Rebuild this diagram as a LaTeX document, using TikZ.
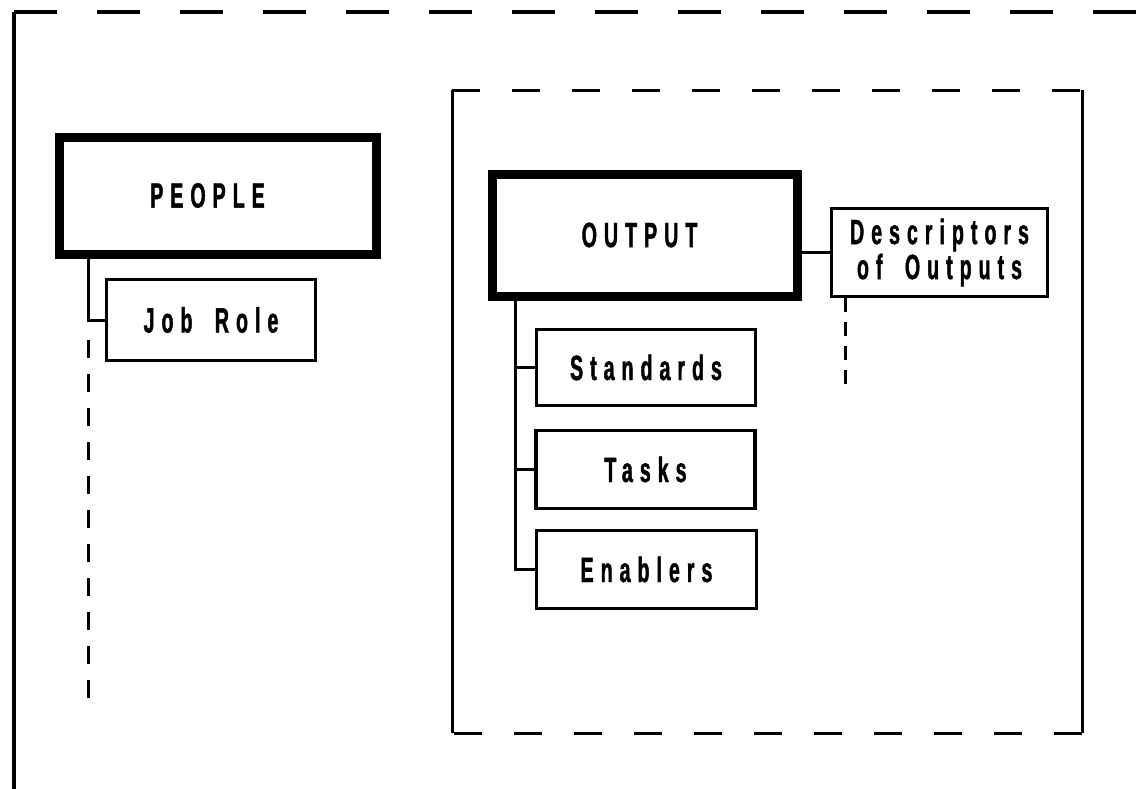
\documentclass[tikz,border=0pt]{standalone}
\usepackage{fontspec}
\setmainfont{Liberation Sans}[FakeStretch=0.56, LetterSpace=20, WordSpace=1.8, FakeBold=1.2]
\begin{document}
\begin{tikzpicture}[x=1pt,y=-1pt,
  lbl/.style={font=\fontsize{35}{36}\selectfont\bfseries},
  thickbox/.style={draw, line width=9pt, inner sep=0pt, lbl},
  thinbox/.style={draw, line width=3.5pt, inner sep=0pt, lbl, align=center},
  link/.style={line width=3pt},
  dlink/.style={line width=3pt, dash pattern=on 18pt off 16pt},
  frame/.style={line width=4.5pt},
  frameb/.style={line width=3pt}]
\useasboundingbox (0,0) rectangle (1140,788);
% outer frame
\coordinate (oTL) at (14,12);
\coordinate (oBL) at (14,790);
\coordinate (oTR) at (1142,12);
\draw[frame] (oBL) -- (oTL);
\draw[line width=3.5pt, dash pattern=on 43pt off 40pt] (oTL) -- (oTR);
% inner dashed frame
\coordinate (iTL) at (452,90);
\coordinate (iBL) at (452,733);
\coordinate (iTR) at (1082,90);
\coordinate (iBR) at (1082,733);
\draw[frameb] (iTL) -- (iBL);
\draw[frameb] (iTR) -- (iBR);
\draw[frameb, dash pattern=on 28pt off 32pt] (iTL) -- (iTR);
\draw[frameb, dash pattern=on 28pt off 32pt] (iBR) -- (iBL);
% boxes
\node[thickbox, minimum width=317pt, minimum height=117pt] (people) at (217.5,195.5) {PEOPLE\hspace*{20pt}};
\node[thinbox, minimum width=209pt, minimum height=81pt] (job) at (211,320) {Job Role};
\node[thickbox, minimum width=305pt, minimum height=122pt] (output) at (644.5,235) {OUTPUT\hspace*{10pt}};
\node[thinbox, minimum width=216pt, minimum height=88pt] (desc) at (939.5,252.5) {Descriptors\\[-1pt] of Outputs};
\node[thinbox, minimum width=219pt, minimum height=76pt] (std) at (646,367.5) {Standards};
\node[thinbox, minimum width=219pt, minimum height=78pt] (tasks) at (645.5,469.5) {Tasks};
\node[thinbox, minimum width=220pt, minimum height=78pt] (enab) at (646.5,569.5) {Enablers};
% connectors
\coordinate (px) at (88,300);
\coordinate (pd1) at (88,340);
\coordinate (pd2) at (88,705);
\draw[link] (people.south -| px) |- (job.west);
\draw[dlink] (pd1) -- (pd2);
\coordinate (ox) at (515,300);
\draw[link] (output.south -| ox) |- (enab.west);
\draw[link] (ox |- std.west) -- (std.west);
\draw[link] (ox |- tasks.west) -- (tasks.west);
\draw[link] (output.east |- desc.west) -- (desc.west);
\coordinate (dx) at (845,300);
\coordinate (dd) at (845,390);
\draw[link, dash pattern=on 14pt off 10pt] (desc.south -| dx) -- (dd);
\end{tikzpicture}
\end{document}
